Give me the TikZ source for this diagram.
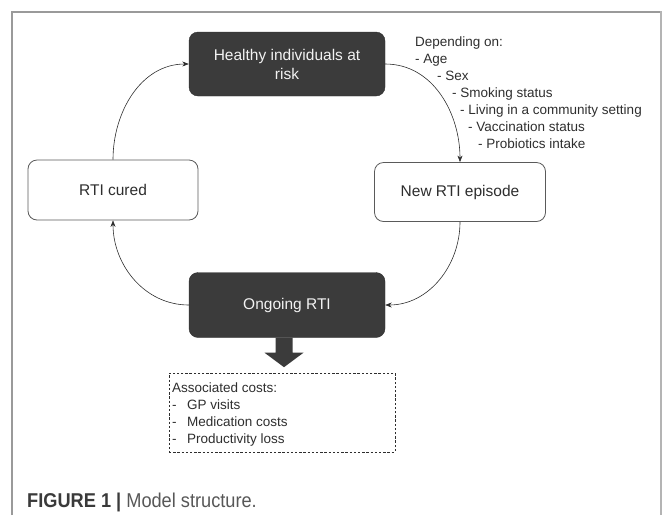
\documentclass[tikz,border=0pt]{standalone}
\usepackage{fontspec}
\setmainfont{Liberation Sans}
\newfontfamily\capfont[FakeStretch=0.91]{Liberation Sans}
\usetikzlibrary{arrows.meta}
\definecolor{darkbox}{HTML}{3B3B3B}
\definecolor{boxline}{HTML}{5A5A5A}
\definecolor{txt}{HTML}{2E2E2E}
\definecolor{framegray}{HTML}{9A9A9A}
\definecolor{framegrayr}{HTML}{B4B4B4}
\definecolor{capgray}{HTML}{3A3A3A}
\tikzset{
  darkstate/.style={draw=darkbox!80!black, fill=darkbox, rounded corners=9pt,
    text=white!95!black, align=center, inner sep=0pt,
    font=\fontsize{15.5}{19}\selectfont},
  lightstate/.style={draw=boxline, fill=white, line width=0.8pt, rounded corners=9pt,
    text=txt, align=center, inner sep=0pt,
    font=\fontsize{15.5}{19}\selectfont},
  conn/.style={draw=txt, line width=0.6pt, -{Stealth[length=6.5pt,width=5pt]}},
  notetext/.style={text=txt, align=left, inner sep=0pt, anchor=north west,
    font=\fontsize{13.5}{16.9}\selectfont},
  costbox/.style={draw=txt, dashed, dash pattern=on 2.4pt off 1.8pt, line width=0.8pt,
    minimum width=226pt, minimum height=79pt, inner sep=0pt},
}
\begin{document}
\begin{tikzpicture}[x=1pt,y=-1pt]
\useasboundingbox (0,0) rectangle (663,515);
% frame
\draw[framegray, line width=1.6pt] (12,515) -- (12,12) -- (661,12);
\draw[framegrayr, line width=2.6pt] (661,11.2) -- (661,515);

% states
\node[darkstate, minimum width=196pt, minimum height=64pt] (healthy) at (287,64)
  {Healthy individuals at\\risk};
\node[lightstate, minimum width=170pt, minimum height=60pt] (cured) at (113,190) {RTI cured};
\node[lightstate, minimum width=171pt, minimum height=59pt] (newrti) at (460,192) {New RTI episode};
\node[darkstate, minimum width=196pt, minimum height=65pt] (ongoing) at (287,305) {Ongoing RTI};

% connectors
\draw[conn] (cured.north) to[out=90,in=180] (healthy.west);
\draw[conn] (healthy.east) to[out=0,in=90] (newrti.north);
\draw[conn] (newrti.south) to[out=-90,in=0] (ongoing.east);
\draw[conn] (ongoing.west) to[out=180,in=-90] (cured.south);

% depending-on note
\node[notetext] (depending) at (415,37) {%
Depending on:\\
- Age\\
\hspace*{22pt}- Sex\\
\hspace*{37pt}- Smoking status\\
\hspace*{45pt}- Living in a community setting\\
\hspace*{53pt}- Vaccination status\\
\hspace*{63pt}- Probiotics intake};

% thick arrow
\coordinate (tail) at ([xshift=-3pt]ongoing.south);
\fill[darkbox] (tail) ++(-8.5,0) -- ++(0,15) -- ++(-11,0) -- ++(19.5,14.5)
  -- ++(19.5,-14.5) -- ++(-11,0) -- ++(0,-15) -- cycle;

% costs box
\node[costbox] (costs) at (282,412.5) {};
\node[notetext] (costtext) at (172,383) {%
Associated costs:\\
-\hspace{10.5pt}GP visits\\
-\hspace{10.5pt}Medication costs\\
-\hspace{10.5pt}Productivity loss};

% caption
\node[anchor=west, inner sep=0pt, text=capgray] (caption) at (27,502)
  {\capfont\fontsize{20}{22}\selectfont\textbf{FIGURE 1 | }{\color{capgray!85!white}Model structure.}};
\end{tikzpicture}
\end{document}
